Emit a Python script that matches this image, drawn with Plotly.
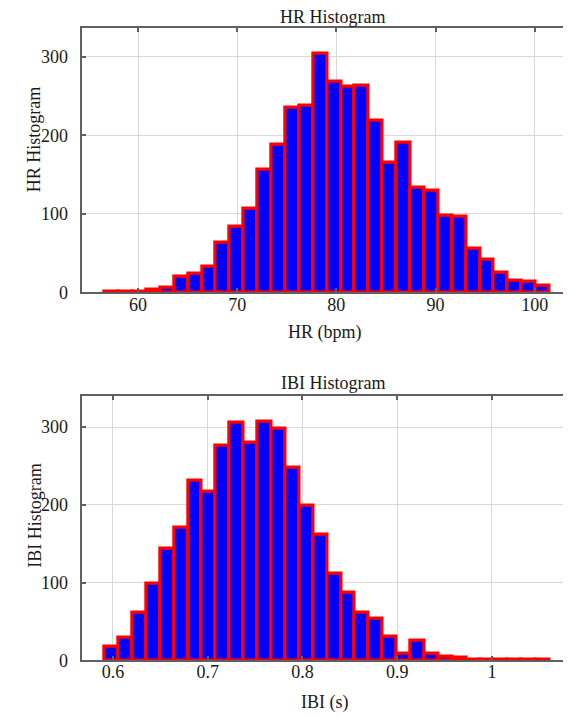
import plotly.graph_objects as go

# ---------------- data ----------------
hr_counts = [1, 1, 1, 3, 6, 20, 24, 33, 63, 83, 107, 156, 188, 235, 238, 304,
             268, 262, 263, 219, 165, 191, 133, 130, 98, 96, 56, 42, 25, 15, 14, 8]
hr_bin_start = 56.64
hr_bin_width = 1.402

ibi_counts = [17, 29, 61, 99, 144, 171, 231, 217, 276, 305, 280, 307, 298, 248, 199, 162,
              111, 87, 61, 54, 30, 9, 25, 9, 5, 3, 1, 1, 1, 1, 1, 1]
ibi_bin_start = 0.5912
ibi_bin_width = 0.014675

hr_ticks = [60, 70, 80, 90, 100]
ibi_ticks = [0.6, 0.7, 0.8, 0.9, 1.0]
ibi_tick_text = ["0.6", "0.7", "0.8", "0.9", "1"]
y_ticks = [0, 100, 200, 300]

# ---------------- figure ----------------
W, H = 571, 717
FONT = "Liberation Serif"
fig = go.Figure()

bar_style = dict(marker=dict(color="#0000ff", line=dict(color="#ff0000", width=3.2)),
                 showlegend=False, hoverinfo="skip")

fig.add_trace(go.Bar(y=hr_counts, x0=hr_bin_start + hr_bin_width / 2, dx=hr_bin_width,
                     width=hr_bin_width, xaxis="x", yaxis="y", **bar_style))
fig.add_trace(go.Bar(y=ibi_counts, x0=ibi_bin_start + ibi_bin_width / 2, dx=ibi_bin_width,
                     width=ibi_bin_width, xaxis="x2", yaxis="y2", **bar_style))

def px_x(p):
    return p / W

def px_y(p):
    return 1 - p / H

axis_common = dict(showline=True, linecolor="#606060", linewidth=2, mirror="ticks",
                   ticks="inside", ticklen=4, tickwidth=1.5, tickcolor="#606060",
                   showgrid=True, gridcolor="#d9d9d9", gridwidth=1, zeroline=False,
                   tickfont=dict(family=FONT, size=18, color="#1a1a1a"))

fig.update_layout(
    width=W, height=H,
    margin=dict(l=0, r=0, t=0, b=0),
    font=dict(family=FONT, size=18, color="#1a1a1a"),
    paper_bgcolor="white", plot_bgcolor="white",
    bargap=0,
    xaxis=dict(domain=[px_x(73.5), px_x(559.5)], range=[54.30, 103.31], anchor="y",
               tickvals=hr_ticks, ticklabelstandoff=-5, **axis_common),
    yaxis=dict(domain=[px_y(288.4), px_y(20)], range=[0, 336.9], anchor="x",
               tickvals=y_ticks, ticklabelstandoff=8, **axis_common),
    xaxis2=dict(domain=[px_x(73.5), px_x(559.5)], range=[0.5668, 1.0797], anchor="y2",
                tickvals=ibi_ticks, ticktext=ibi_tick_text, ticklabelstandoff=-6, **axis_common),
    yaxis2=dict(domain=[px_y(661.7), px_y(393.3)], range=[0, 340.2], anchor="x2",
                tickvals=y_ticks, ticklabelstandoff=8, **axis_common),
)

def label(text, x, y, angle=0):
    fig.add_annotation(text=text, x=px_x(x), y=px_y(y), xref="paper", yref="paper",
                       showarrow=False, textangle=angle, xanchor="center", yanchor="middle",
                       borderpad=0,
                       font=dict(family=FONT, size=18, color="#1a1a1a"))

label("HR Histogram", 325, 9)
label("HR (bpm)", 317, 329)
label("HR Histogram", 26, 133, -90)
label("IBI Histogram", 325, 380)
label("IBI (s)", 317, 704)
label("IBI Histogram", 27, 515, -90)

fig.write_html("out.html")
